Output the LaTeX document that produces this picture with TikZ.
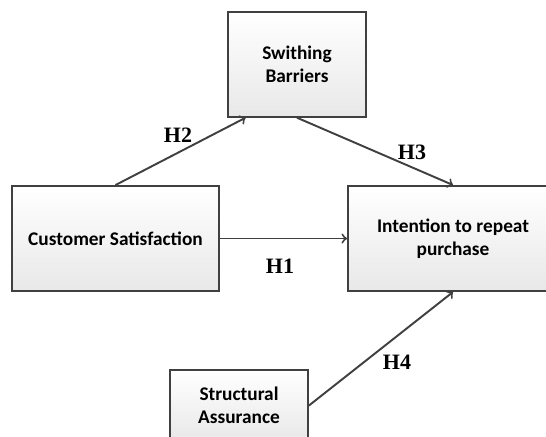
\documentclass[tikz,border=0pt]{standalone}
\usepackage{fontspec}
\setmainfont{Liberation Serif}
\newfontfamily\boxfont{Carlito}
\begin{document}
\begin{tikzpicture}[>=to, x=0.02cm, y=-0.02cm,
  var/.style={draw=black!75, line width=1.1pt, top color=white, bottom color=black!9,
    align=center, inner sep=0pt, font=\boxfont\bfseries\fontsize{11}{13}\selectfont},
  hyp/.style={font=\bfseries\fontsize{12.5}{14}\selectfont},
  link/.style={->, draw=black!75, line width=1.1pt}]
\useasboundingbox (0,0) rectangle (546,436);
\node[var, minimum width=2.76cm, minimum height=2.09cm] (sb) at (297,64.5) {Swithing\\Barriers};
\node[var, minimum width=4.14cm, minimum height=2.1cm] (cs) at (115.5,238.5) {Customer Satisfaction};
\node[var, minimum width=4.2cm, minimum height=2.1cm] (ir) at (453,238.5) {Intention to repeat\\purchase};
\node[var, minimum width=2.76cm, minimum height=1.42cm] (sa) at (239,405.5) {Structural\\Assurance};
\draw[link] (cs.north) -- (sb.226.2);
\draw[link] (sb.south) -- (ir.north);
\draw[link] (cs.east) -- (ir.west);
\draw[link] (sa.east) -- (ir.south);
\node[hyp] (h2) at (178,135) {H2};
\node[hyp] (h3) at (412,152) {H3};
\node[hyp] (h1) at (280,266) {H1};
\node[hyp] (h4) at (397,362) {H4};
\end{tikzpicture}
\end{document}
